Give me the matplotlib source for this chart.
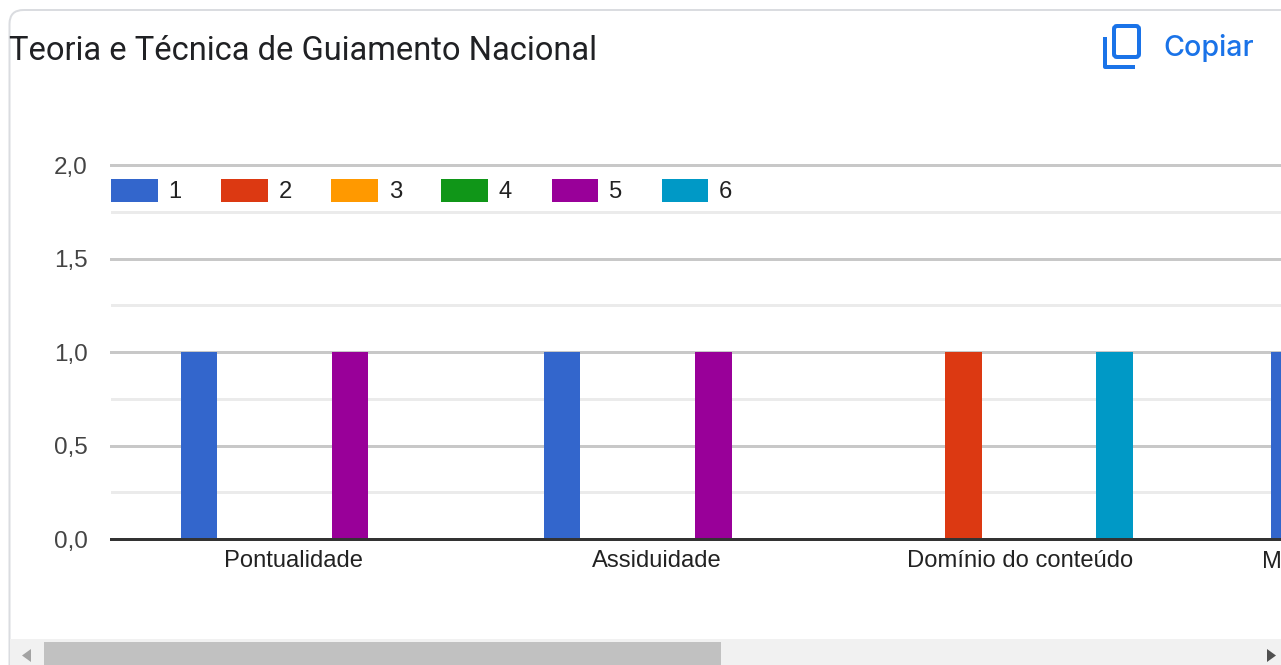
import numpy as np
import matplotlib
matplotlib.use('Agg')
import matplotlib.pyplot as plt
from matplotlib.patches import FancyBboxPatch, Rectangle, Polygon

title = 'Teoria e Técnica de Guiamento Nacional'
categories = ['Pontualidade', 'Assiduidade', 'Domínio do conteúdo', 'M']
series_names = ['1', '2', '3', '4', '5', '6']
series_colors = ['#3366cc', '#dc3912', '#ff9900', '#109618', '#990099', '#0099c6']
series_values = [
    [1, 1, 0, 1],
    [0, 0, 1, 0],
    [0, 0, 0, 0],
    [0, 0, 0, 0],
    [1, 1, 0, 0],
    [0, 0, 1, 0],
]
y_major = [0, 0.5, 1.0, 1.5, 2.0]
y_minor = [0.25, 0.75, 1.25, 1.75]
y_labels = ['0,0', '0,5', '1,0', '1,5', '2,0']

W, H = 1281, 665
px = 72 / 100  # one pixel in points
fig = plt.figure(figsize=(W / 100, H / 100), dpi=100, facecolor='white')
font_size = 17.1

# Chart area
ax = fig.add_axes([110.5 / W, (H - 539.2) / H, 1170.5 / W, 374 / H], zorder=2)
ax.patch.set_alpha(0)
x = np.arange(len(categories))
step = 0.104
for j, vals in enumerate(series_values):
    ax.bar(x + (j - 2.5) * step, vals, width=0.1, color=series_colors[j],
           label=series_names[j], zorder=3, linewidth=0)

ax.set_xlim(-0.503, 2.718)
ax.set_ylim(0, 2)
ax.set_yticks(y_major, y_labels)
ax.set_yticks(y_minor, minor=True)
ax.set_xticks(x[:3], categories[:3])
# last category is cut by the edge of the image
ax.text(2.666, -0.0315, categories[3], transform=ax.get_xaxis_transform(), ha='left', va='top',
        fontsize=font_size, family='Liberation Sans', color='#222222', clip_on=False)

ax.tick_params(axis='y', which='both', length=0, pad=23 * px, labelsize=font_size + 0.4, labelcolor='#444444')
ax.tick_params(axis='x', length=0, pad=11 * px, labelsize=font_size, labelcolor='#222222')
for lab in ax.get_xticklabels() + ax.get_yticklabels():
    lab.set_family('Liberation Sans')

ax.grid(True, axis='y', which='major', color='#c8c8c8', linewidth=3 * px, zorder=1)
ax.grid(True, axis='y', which='minor', color='#ebebeb', linewidth=3 * px, zorder=1)
for gl in ax.get_ygridlines():
    gl.set_clip_on(False)
ax.set_axisbelow(True)
for name in ['top', 'left', 'right']:
    ax.spines[name].set_visible(False)
ax.spines['bottom'].set_color('#333333')
ax.spines['bottom'].set_linewidth(3 * px)
ax.spines['bottom'].set_zorder(4)

leg = ax.legend(loc='upper left', bbox_to_anchor=(0.5 / 1170.5, (539.2 - 179) / 374), ncol=6,
                frameon=False, borderpad=0, borderaxespad=0, handlelength=1.96,
                handleheight=1.1, handletextpad=0.46, columnspacing=1.66,
                prop={'family': 'Liberation Sans', 'size': font_size}, labelcolor='#222222')

# Card, title, copy button and scrollbar, in pixel coordinates
ui = fig.add_axes([0, 0, 1, 1], zorder=3)
ui.set_xlim(0, W)
ui.set_ylim(H, 0)
ui.axis('off')
ui.patch.set_alpha(0)

ui.add_patch(FancyBboxPatch((9.5, 10), 1400, 800, boxstyle='round,pad=0,rounding_size=14',
                            facecolor='none', edgecolor='#dadce0', linewidth=2 * px))
ui.text(9, 50.5, title, family='Roboto', fontsize=23.5, color='#202124', ha='left', va='center')
ui.text(1163.5, 48, 'Copiar', family='Inter', fontsize=20.6, color='#1a73e8', ha='left', va='center',
        fontweight='medium')

blue = '#1a73e8'
ui.add_patch(FancyBboxPatch((1114, 26), 25, 31, boxstyle='round,pad=0,rounding_size=3',
                            facecolor='none', edgecolor=blue, linewidth=4 * px))
ui.plot([1105, 1105, 1135], [37, 66.5, 66.5], color=blue, linewidth=4 * px,
        solid_joinstyle='round', solid_capstyle='butt')

ui.add_patch(Rectangle((10, 639), W - 10, H - 639, facecolor='#f1f1f1', edgecolor='none'))
ui.add_patch(Rectangle((44, 642), 677, H - 642, facecolor='#c1c1c1', edgecolor='none'))
ui.add_patch(Polygon([[31, 649], [31, 662], [22, 655.5]], facecolor='#a3a3a3', edgecolor='none'))
ui.add_patch(Polygon([[1267, 649], [1267, 662], [1276, 655.5]], facecolor='#505050', edgecolor='none'))

fig.savefig('out.png', dpi=100)
